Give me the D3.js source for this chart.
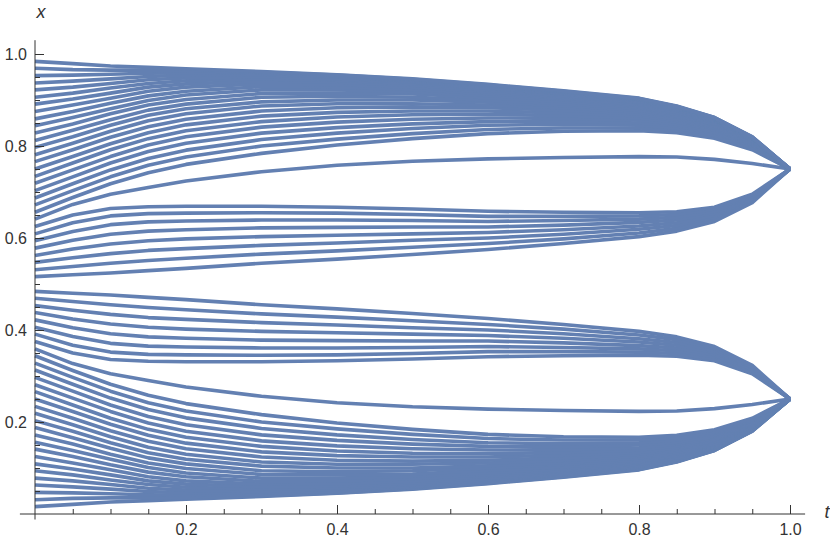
<!DOCTYPE html>
<html>
<head>
<meta charset="utf-8">
<script src="https://cdn.jsdelivr.net/npm/d3@7"></script>
<style>
  body { margin: 0; background: #fff; }
  svg { display: block; }
</style>
</head>
<body>
<svg id="chart" width="830" height="545"></svg>
<script>
// time samples (t axis)
var tSteps = [0, 0.05, 0.1, 0.15, 0.2, 0.3, 0.4, 0.5, 0.6, 0.7, 0.8, 0.85, 0.9, 0.95, 1];

// bottom bundle, ends at 0.25
var lowerOuter = [
  [.016,.021,.026,.029,.032,.038,.045,.054,.066,.080,.096,.113,.138,.180,.25],
  [.031,.034,.035,.035,.036,.040,.046,.055,.067,.081,.097,.114,.138,.180,.25],
  [.047,.046,.044,.042,.041,.042,.048,.057,.068,.082,.098,.114,.139,.181,.25],
  [.063,.059,.054,.049,.046,.045,.050,.059,.070,.083,.099,.115,.140,.181,.25],
  [.078,.072,.064,.056,.052,.049,.054,.061,.073,.085,.100,.116,.141,.182,.25],
  [.094,.085,.074,.064,.058,.054,.057,.064,.075,.087,.102,.118,.142,.183,.25],
  [.109,.098,.085,.072,.065,.059,.061,.068,.078,.090,.104,.119,.143,.183,.25],
  [.125,.111,.096,.081,.072,.065,.066,.072,.082,.093,.106,.121,.145,.184,.25],
  [.141,.125,.107,.091,.081,.071,.072,.077,.086,.096,.109,.123,.146,.185,.25],
  [.156,.138,.119,.101,.089,.078,.078,.082,.090,.099,.112,.126,.148,.187,.25],
  [.172,.152,.130,.111,.099,.086,.085,.087,.095,.103,.115,.128,.150,.188,.25],
  [.188,.166,.143,.122,.109,.094,.092,.094,.100,.108,.118,.131,.152,.189,.25],
  [.203,.180,.155,.133,.119,.104,.100,.100,.105,.112,.122,.134,.154,.191,.25],
  [.219,.194,.168,.145,.130,.113,.108,.108,.111,.117,.126,.137,.157,.192,.25],
  [.234,.208,.181,.158,.142,.124,.117,.115,.117,.122,.130,.141,.160,.194,.25],
  [.250,.223,.195,.171,.154,.135,.127,.124,.124,.128,.134,.144,.162,.196,.25],
  [.266,.237,.208,.184,.167,.147,.137,.132,.131,.134,.139,.148,.165,.197,.25],
  [.281,.252,.223,.198,.180,.159,.148,.142,.139,.140,.144,.152,.169,.199,.25],
  [.297,.267,.237,.212,.194,.172,.160,.152,.147,.146,.150,.156,.172,.202,.25],
  [.313,.282,.252,.227,.209,.186,.172,.162,.155,.153,.155,.161,.176,.204,.25],
  [.328,.297,.267,.242,.224,.200,.185,.173,.164,.161,.161,.166,.179,.206,.25],
  [.344,.312,.282,.258,.240,.216,.198,.184,.173,.168,.167,.171,.183,.208,.25],
  [.359,.327,.305,.290,.276,.256,.242,.233,.228,.225,.223,.224,.229,.238,.25]
];

// lines just under 0.5, also end at 0.25
var lowerInner = [
  [.375,.350,.336,.332,.331,.331,.333,.337,.342,.344,.345,.343,.333,.305,.25],
  [.391,.367,.352,.347,.346,.345,.346,.349,.353,.353,.352,.349,.337,.308,.25],
  [.406,.386,.371,.365,.363,.361,.361,.362,.364,.362,.359,.355,.342,.310,.25],
  [.422,.405,.392,.385,.382,.378,.377,.376,.376,.372,.366,.361,.346,.313,.25],
  [.438,.424,.413,.406,.402,.397,.394,.391,.388,.382,.374,.367,.351,.315,.25],
  [.453,.443,.434,.427,.423,.416,.411,.405,.400,.392,.381,.373,.355,.318,.25],
  [.469,.462,.455,.449,.444,.435,.428,.420,.412,.402,.389,.379,.360,.320,.25],
  [.484,.480,.476,.471,.466,.455,.446,.436,.425,.412,.397,.385,.364,.323,.25]
];

// lines just over 0.5, end at 0.75
var upperInner = [
  [.516,.520,.524,.529,.534,.545,.554,.564,.575,.588,.603,.615,.636,.677,.75],
  [.531,.538,.545,.551,.556,.565,.572,.580,.588,.598,.611,.621,.640,.680,.75],
  [.547,.557,.566,.573,.577,.584,.589,.595,.600,.608,.619,.627,.645,.682,.75],
  [.562,.576,.587,.594,.598,.603,.606,.609,.612,.618,.626,.633,.649,.685,.75],
  [.578,.595,.608,.615,.618,.622,.623,.624,.624,.628,.634,.639,.654,.687,.75],
  [.594,.614,.629,.635,.637,.639,.639,.638,.636,.638,.641,.645,.658,.690,.75],
  [.609,.633,.648,.653,.654,.655,.654,.651,.647,.647,.648,.651,.663,.692,.75],
  [.625,.650,.664,.668,.669,.669,.667,.663,.658,.656,.655,.657,.667,.695,.75]
];

// top bundle, ends at 0.75
var upperOuter = [
  [.641,.673,.695,.710,.724,.744,.758,.767,.772,.775,.777,.776,.771,.762,.75],
  [.656,.688,.718,.742,.760,.784,.802,.816,.827,.832,.833,.829,.817,.792,.75],
  [.672,.703,.733,.758,.776,.800,.815,.827,.836,.839,.839,.834,.821,.794,.75],
  [.687,.718,.748,.773,.791,.814,.828,.838,.845,.847,.845,.839,.824,.796,.75],
  [.703,.733,.763,.788,.806,.828,.840,.848,.853,.854,.850,.844,.828,.798,.75],
  [.719,.748,.777,.802,.820,.841,.852,.858,.861,.860,.856,.848,.831,.801,.75],
  [.734,.763,.792,.816,.833,.853,.863,.868,.869,.866,.861,.852,.835,.803,.75],
  [.750,.777,.805,.829,.846,.865,.873,.876,.876,.872,.866,.856,.838,.804,.75],
  [.766,.792,.819,.842,.858,.876,.883,.885,.883,.878,.870,.859,.840,.806,.75],
  [.781,.806,.832,.855,.870,.887,.892,.892,.889,.883,.874,.863,.843,.808,.75],
  [.797,.820,.845,.867,.881,.896,.900,.900,.895,.888,.878,.866,.846,.809,.75],
  [.812,.834,.857,.878,.891,.906,.908,.906,.900,.892,.882,.869,.848,.811,.75],
  [.828,.848,.870,.889,.901,.914,.915,.913,.905,.897,.885,.872,.850,.812,.75],
  [.844,.862,.881,.899,.911,.922,.922,.918,.910,.901,.888,.874,.852,.813,.75],
  [.859,.875,.893,.909,.919,.929,.928,.923,.914,.904,.891,.877,.854,.815,.75],
  [.875,.889,.904,.919,.928,.935,.934,.928,.918,.907,.894,.879,.855,.816,.75],
  [.891,.902,.915,.928,.935,.941,.939,.932,.922,.910,.896,.881,.857,.817,.75],
  [.906,.915,.926,.936,.942,.946,.943,.936,.925,.913,.898,.882,.858,.817,.75],
  [.922,.928,.936,.944,.948,.951,.946,.939,.927,.915,.900,.884,.859,.818,.75],
  [.937,.941,.946,.951,.954,.955,.950,.941,.930,.917,.901,.885,.860,.819,.75],
  [.953,.954,.956,.958,.959,.958,.952,.943,.932,.918,.902,.886,.861,.819,.75],
  [.969,.966,.965,.965,.964,.960,.954,.945,.933,.919,.903,.886,.862,.820,.75],
  [.984,.979,.974,.971,.968,.962,.955,.946,.934,.920,.904,.887,.862,.820,.75]
];

var majorTicks = [0.2, 0.4, 0.6, 0.8, 1.0];
var minorTicks = [0.05, 0.1, 0.15, 0.25, 0.3, 0.35, 0.45, 0.5, 0.55, 0.65, 0.7, 0.75, 0.85, 0.9, 0.95];
var axisNames = { x: "t", y: "x" };

var svg = d3.select("#chart");

var x = d3.scaleLinear().domain([0, 1]).range([35, 790]);
var y = d3.scaleLinear().domain([0, 1]).range([514, 54]);

//curves
var allCurves = lowerOuter.concat(lowerInner, upperInner, upperOuter);
var line = d3.line()
  .x(function(d, i) { return x(tSteps[i]); })
  .y(function(d) { return y(d); });

svg.append("g")
  .selectAll("path")
  .data(allCurves)
  .enter().append("path")
    .attr("d", line)
    .attr("fill", "none")
    .attr("stroke", "#6380b2")
    .attr("stroke-width", 3.6)
    .attr("stroke-linejoin", "round");

//axes
var yMinor = d3.axisLeft(y).tickValues(minorTicks).tickSize(-5).tickFormat("");
var yMajor = d3.axisLeft(y).tickValues(majorTicks).tickSize(-9).tickPadding(8)
  .tickFormat(d3.format(".1f"));
var xMinor = d3.axisBottom(x).tickValues(minorTicks).tickSize(-5).tickFormat("");
var xMajor = d3.axisBottom(x).tickValues(majorTicks).tickSize(-9).tickPadding(10)
  .tickFormat(d3.format(".1f"));

function styleAxis(g) {
  g.select(".domain").remove();
  g.selectAll(".tick line").attr("stroke", "#333");
  g.selectAll(".tick text")
    .attr("fill", "#333")
    .style("font-family", "'Liberation Sans', Arial, sans-serif")
    .style("font-size", "16px");
}

[yMinor, yMajor].forEach(function(a) {
  svg.append("g").attr("transform", "translate(" + x(0) + ",0)").call(a).call(styleAxis);
});
[xMinor, xMajor].forEach(function(a) {
  svg.append("g").attr("transform", "translate(0," + y(0) + ")").call(a).call(styleAxis);
});

svg.append("line")
  .attr("x1", x(-0.02)).attr("x2", x(1.02))
  .attr("y1", y(0)).attr("y2", y(0))
  .attr("stroke", "#333");
svg.append("line")
  .attr("x1", x(0)).attr("x2", x(0))
  .attr("y1", y(-0.012)).attr("y2", y(1.03))
  .attr("stroke", "#333");

svg.append("text")
  .attr("x", x(0) + 6).attr("y", 18)
  .attr("text-anchor", "middle")
  .style("font-family", "'Liberation Sans', Arial, sans-serif")
  .style("font-size", "18px").style("font-style", "italic").attr("fill", "#333")
  .text(axisNames.y);
svg.append("text")
  .attr("x", x(1.02) + 22).attr("y", y(0) + 4)
  .attr("text-anchor", "middle")
  .style("font-family", "'Liberation Sans', Arial, sans-serif")
  .style("font-size", "18px").style("font-style", "italic").attr("fill", "#333")
  .text(axisNames.x);
</script>
</body>
</html>
